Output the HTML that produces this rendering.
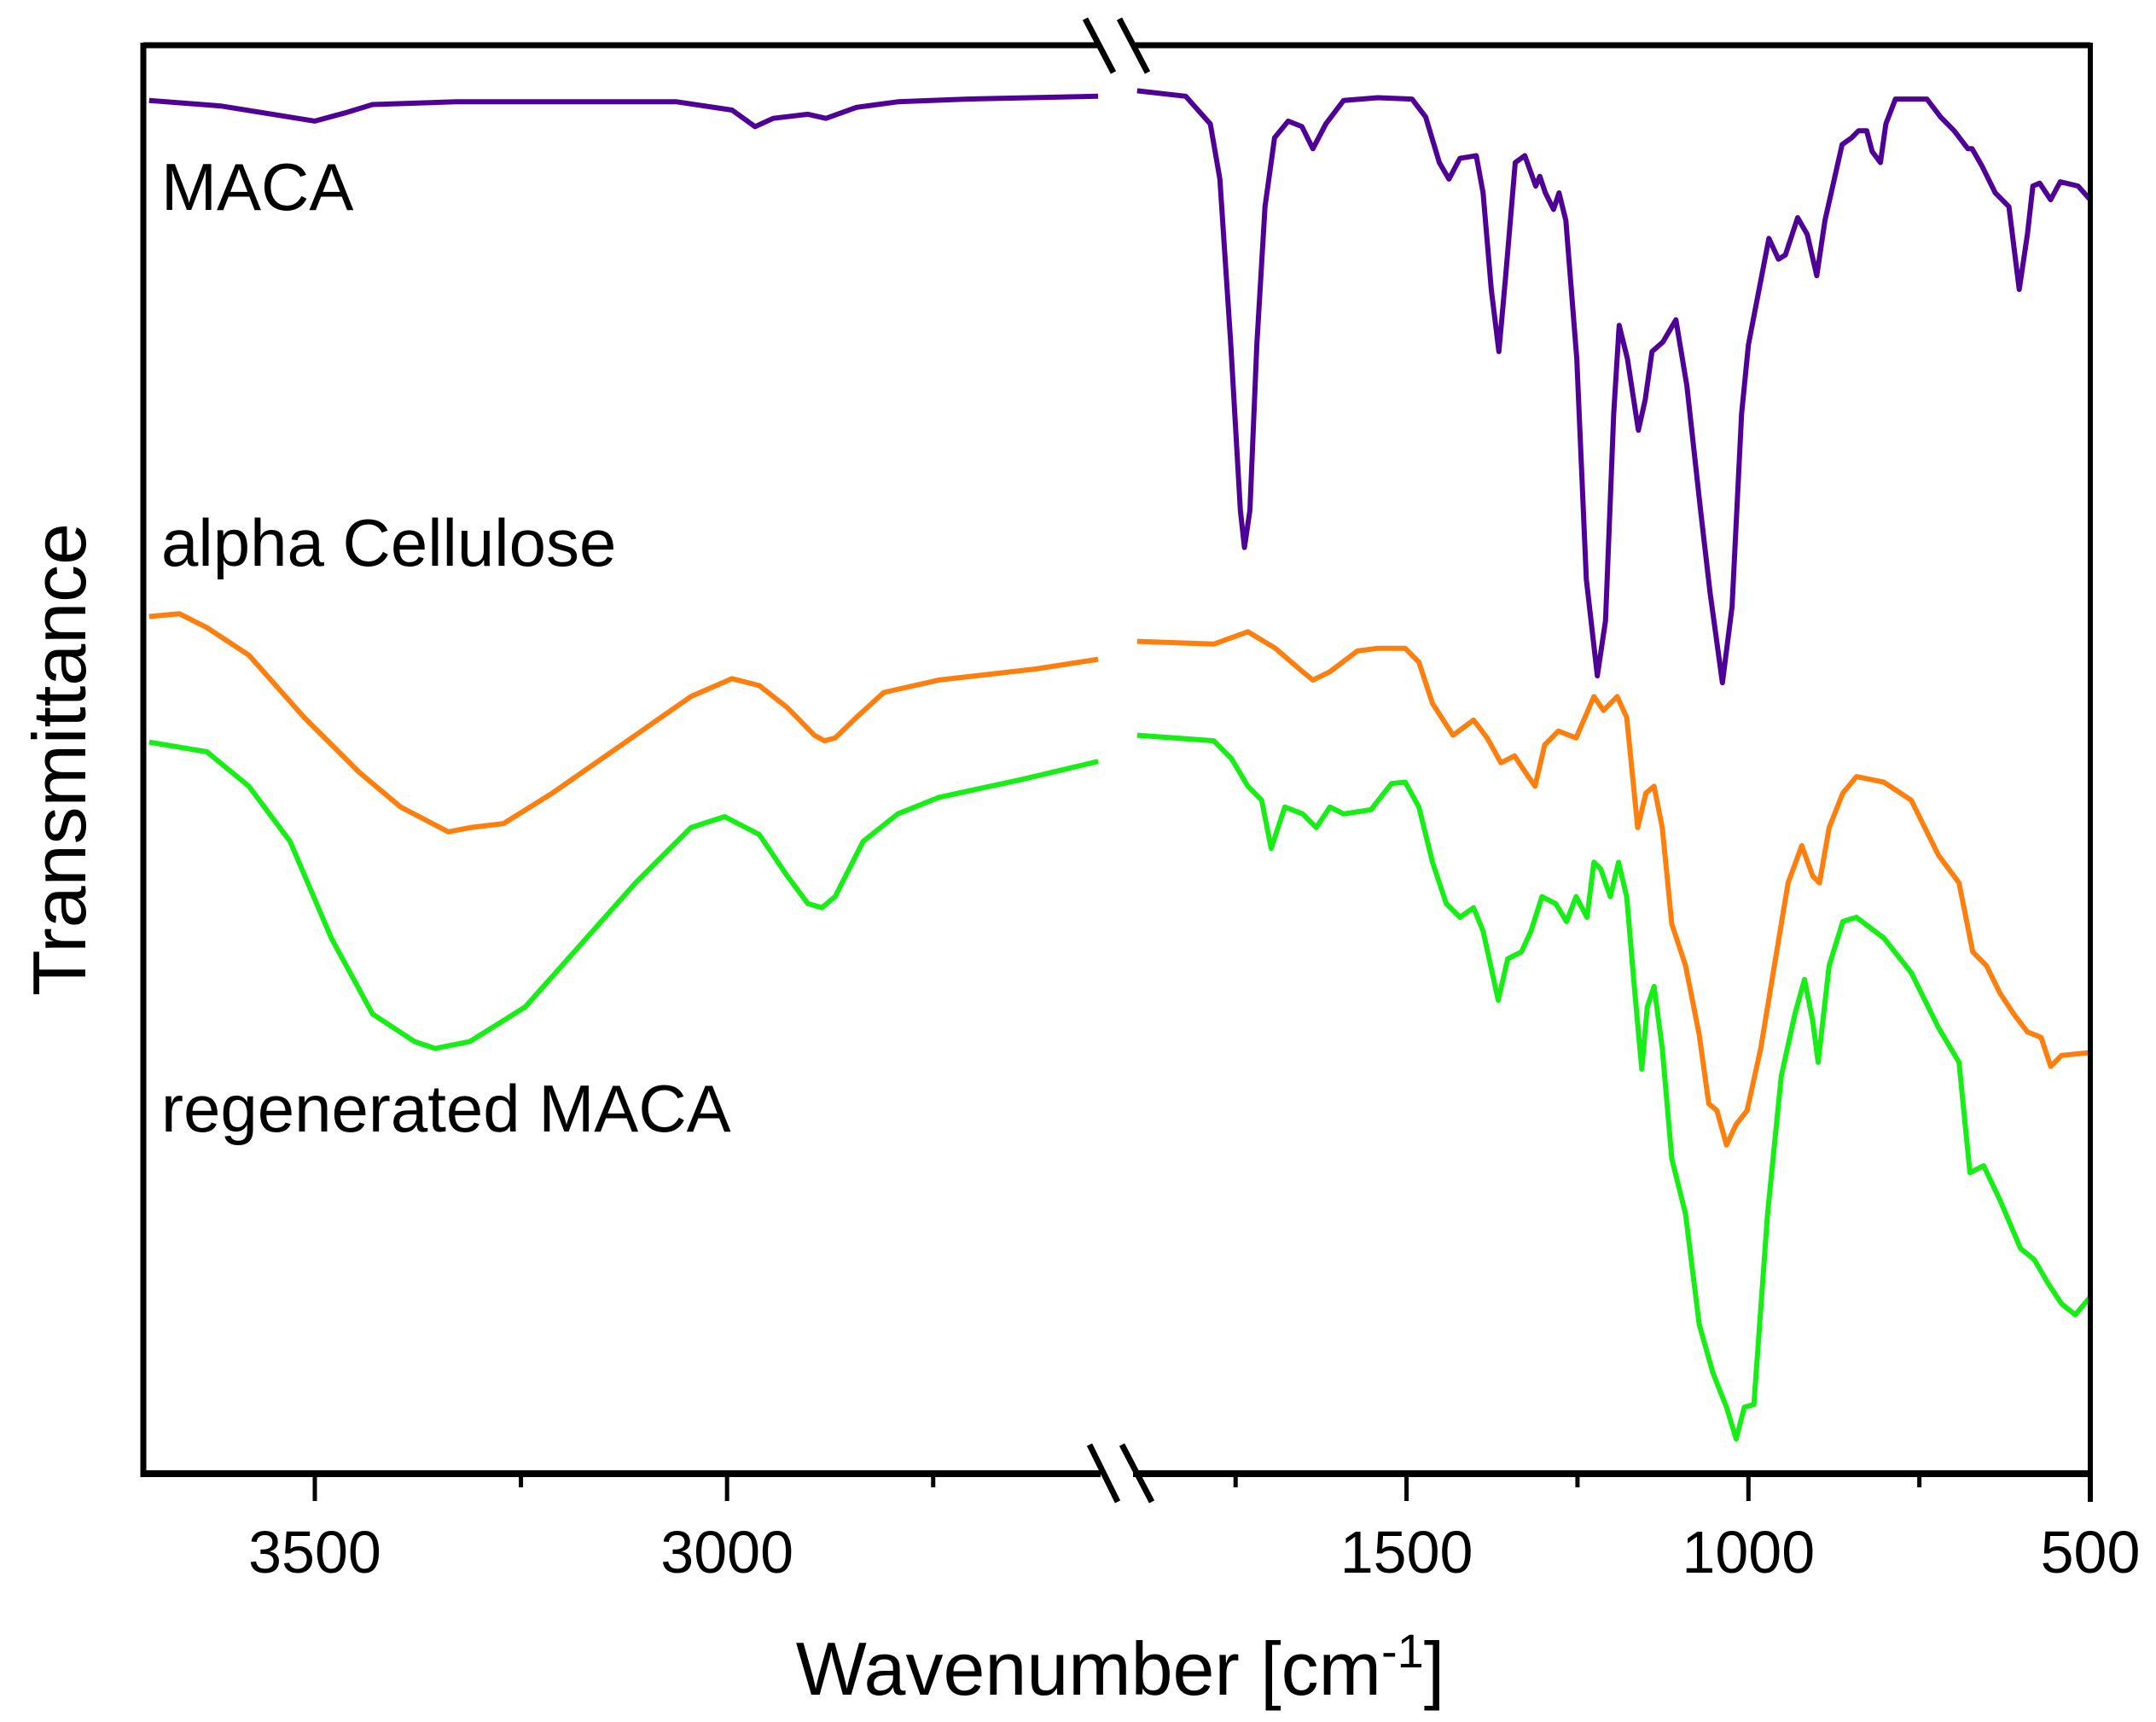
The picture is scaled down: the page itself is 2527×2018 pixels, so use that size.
<!DOCTYPE html>
<html><head><meta charset="utf-8"><style>
html,body{margin:0;padding:0;background:#fff}
svg{display:block;font-family:"Liberation Sans",Arial,sans-serif}
</style></head><body>
<svg id="chart" width="2527" height="2018" viewBox="0 0 2527 2018" xmlns="http://www.w3.org/2000/svg">
<g id="plot"></g>
</svg>
<script>
// Wavenumber / offset-transmittance data (offset units: 33 = top of plot, 1070 = bottom; inverted)
const macaLeftW = [3701,3614,3500,3463,3430,3329,3061,2994,2966,2944,2902,2880,2843,2793,2709,2550];
const macaLeftT = [73,77,88,82,76,74,74,80,92,86,83,86,78,74,72,70];
const macaRightW = [1894,1823,1787,1773,1757,1743,1737,1729,1719,1707,1693,1673,1653,1637,1618,1592,1542,1492,1472,1452,1438,1422,1398,1388,1376,1365,1355,1341,1327,1311,1305,1297,1285,1277,1267,1251,1237,1221,1209,1197,1189,1177,1161,1151,1141,1125,1106,1090,1070,1056,1038,1024,1010,1000,970,956,946,928,914,900,888,863,849,839,827,819,807,799,785,739,719,699,679,673,659,639,619,604,592,584,574,558,544,518,500];
const macaRightT = [66,70,90,130,250,370,397,370,250,150,100,88,92,108,90,73,71,72,85,118,130,115,113,140,210,255,200,118,113,135,128,140,152,140,160,260,420,490,450,300,236,260,312,290,255,248,232,280,370,430,495,440,300,250,173,188,185,158,170,200,160,105,100,95,95,110,118,90,72,72,85,95,108,108,120,140,150,210,170,135,133,145,132,135,145];

const celLeftW = [3701,3664,3631,3580,3513,3446,3396,3338,3312,3271,3212,3128,3044,2994,2961,2927,2894,2882,2869,2843,2810,2743,2626,2550];
const celLeftT = [447,445,455,475,520,560,585,603,600,597,575,540,505,492,497,513,533,537,535,520,502,493,485,478];
const celRightW = [1894,1782,1732,1692,1652,1637,1612,1572,1542,1502,1482,1462,1432,1402,1382,1362,1342,1326,1312,1298,1278,1252,1226,1212,1192,1178,1162,1150,1138,1126,1112,1092,1072,1058,1046,1032,1018,1002,982,962,942,922,906,896,882,862,842,802,762,722,692,672,652,632,612,592,572,558,542,500];
const celRightT = [465,467,458,470,487,493,487,472,470,470,480,510,533,522,535,553,548,560,570,540,530,535,505,515,505,520,600,575,570,600,670,700,750,800,805,830,815,805,760,700,640,613,635,640,600,575,563,567,580,620,640,690,700,720,735,748,752,773,765,763];

const regLeftW = [3701,3631,3580,3530,3480,3430,3379,3354,3312,3245,3178,3111,3044,3003,2961,2927,2902,2885,2869,2835,2793,2743,2642,2550];
const regLeftT = [538,545,570,610,680,735,755,760,755,730,685,640,600,592,605,635,655,658,650,610,590,578,565,552];
const regRightW = [1894,1782,1756,1732,1712,1698,1678,1652,1632,1612,1592,1552,1522,1502,1482,1462,1442,1422,1402,1388,1366,1352,1332,1318,1302,1282,1266,1252,1236,1226,1216,1202,1190,1178,1166,1156,1148,1138,1126,1112,1092,1072,1052,1032,1018,1006,992,972,952,932,918,906,898,882,862,842,802,762,722,692,676,656,632,602,582,562,542,522,500];
const regRightT = [533,537,550,570,580,615,585,590,600,585,590,587,568,567,585,625,655,665,658,675,725,695,690,675,650,655,668,650,665,625,630,650,625,650,720,775,730,715,760,840,880,960,995,1020,1043,1020,1018,880,780,735,710,740,770,700,668,665,680,705,745,770,850,845,870,905,913,930,945,953,940];

const xTicksLeft = [3500,3000];
const xMinorLeft = [3250,2750];
const xTicksRight = [1500,1000,500];
const xMinorRight = [1750,1250,750];
const labels = ["MACA","alpha Cellulose","regenerated MACA"];
const labelT = [152,410,820];

const L={x0:168,x1:1288,w0:3708,w1:2549};
const R={x0:1328,x1:2450,w0:1900,w1:500};
const Y0=53,Y1=1730;
function xl(w){return L.x0+(L.w0-w)/(L.w0-L.w1)*(L.x1-L.x0);}
function xr(w){return R.x0+(R.w0-w)/(R.w0-R.w1)*(R.x1-R.x0);}
function y(t){return Y0+(t-33)/(1070-33)*(Y1-Y0);}

const NS="http://www.w3.org/2000/svg";
const g=document.getElementById('plot');
function mk(tag,attrs){const e=document.createElementNS(NS,tag);for(const k in attrs)e.setAttribute(k,attrs[k]);g.appendChild(e);return e;}

function series(W,T,fx,color,name){
  let d='';
  for(let i=0;i<W.length;i++){d+=(i?'L':'M')+fx(W[i]).toFixed(1)+','+y(T[i]).toFixed(1);}
  const p=mk('path',{d:d,fill:'none',stroke:color,'stroke-width':6,'stroke-linejoin':'round'});
  
  
}
series(macaLeftW,macaLeftT,xl,'#4f0096','maca-line-left');
series(macaRightW,macaRightT,xr,'#4f0096','maca-line-right');
series(celLeftW,celLeftT,xl,'#ff7f0e','alpha-cellulose-line-left');
series(celRightW,celRightT,xr,'#ff7f0e','alpha-cellulose-line-right');
series(regLeftW,regLeftT,xl,'#16ee16','regenerated-maca-line-left');
series(regRightW,regRightT,xr,'#16ee16','regenerated-maca-line-right');

// frame
const fr=[['M168,53L1288,53','top-axis-left'],['M1328,53L2450,53','top-axis-right'],['M168,1727L1290,1727','x-axis-left'],['M1328,1727L2450,1727','x-axis-right']];
fr.forEach(f=>{const e=mk('path',{d:f[0],stroke:'#000','stroke-width':f[1].startsWith('x')?8:7});
  
  });
const lb=mk('line',{x1:168,y1:50,x2:168,y2:1731,stroke:'#000','stroke-width':7});


const rb=mk('line',{x1:2450,y1:50,x2:2450,y2:1760,stroke:'#000','stroke-width':6});


// break marks
[[1272,22,1305,85],[1312,22,1345,85],[1277,1693,1310,1760],[1315,1693,1350,1760]].forEach(b=>{
  const e=mk('line',{x1:b[0],y1:b[1],x2:b[2],y2:b[3],stroke:'#000','stroke-width':7});
  
  
});
// ticks
function tick(x,len,name){const e=mk('line',{x1:x,y1:1727,x2:x,y2:1727+len,stroke:'#000','stroke-width':5});
  
  }
function tlabel(x,t){const e=mk('text',{x:x,y:1843,'text-anchor':'middle','font-size':70});e.textContent=t;
  
  }
xTicksLeft.forEach(w=>{tick(xl(w),32,'x-major-tick');tlabel(xl(w),w);});
xMinorLeft.forEach(w=>tick(xl(w),16,'x-minor-tick'));
xTicksRight.forEach(w=>{tick(xr(w),32,'x-major-tick');tlabel(xr(w),w);});
xMinorRight.forEach(w=>tick(xr(w),16,'x-minor-tick'));
// series labels
labels.forEach((s,i)=>{const e=mk('text',{x:189,y:labelT[i]*1.617,'font-size':78});
  e.textContent=s;
  
  });
// axis titles
const xt=mk('text',{x:1313,y:1986,'text-anchor':'middle','font-size':88});
xt.innerHTML='Wavenumber [cm<tspan dy="-32" font-size="56">-1</tspan><tspan dy="32">]</tspan>';


const yt=mk('text',{x:0,y:0,'text-anchor':'middle','font-size':88,transform:'translate(100,890) rotate(-90)'});
yt.textContent='Transmittance';


</script>
</body></html>
